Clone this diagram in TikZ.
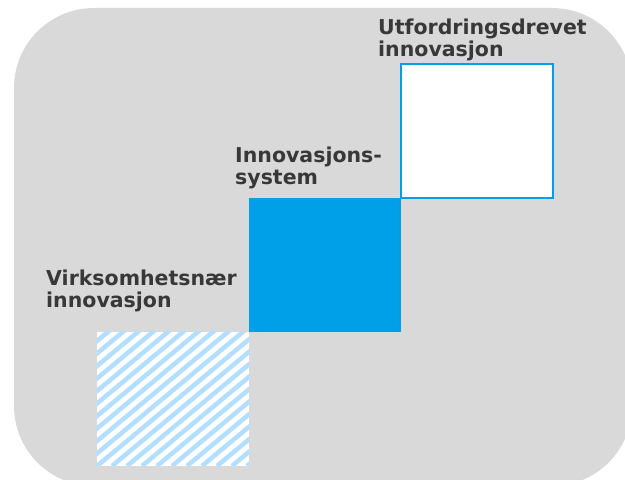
\documentclass[tikz,border=0pt]{standalone}
\usepackage{fontspec}
\setmainfont{DejaVu Sans}
\usetikzlibrary{positioning}

\definecolor{boxblue}{RGB}{0,160,233}
\definecolor{bggray}{RGB}{217,217,217}
\definecolor{stripeblue}{RGB}{178,223,255}
\definecolor{labelgray}{RGB}{56,56,56}

\begin{document}
\begin{tikzpicture}[x=1pt, y=1pt,
	square/.style={minimum width=152pt, minimum height=134pt, inner sep=0pt, outer sep=0pt},
	filled/.style={square, fill=boxblue},
	open/.style={square, fill=white, draw=boxblue, line width=2pt},
	striped/.style={square, fill=white, path picture={
		\foreach \s in {-210,-195,...,165}
			\draw [stripeblue, line width=4.5pt] ([xshift=\s pt]path picture bounding box.south west) -- ++(240,200);}},
	label/.style={anchor=base west, align=left, inner sep=0pt, text=labelgray,
		font=\bfseries\fontsize{20.5}{22}\selectfont}]

	\useasboundingbox (0,0) rectangle (625,480);

	% Background
	\fill [bggray, rounded corners=80pt] (14,-6) rectangle (632,472);

	% Squares {hatch, core, goal}
	\node [striped]		(hatch)		at (173,81)						{};
	\node [filled]		(core)		[above right=0pt and 0pt of hatch]	{};
	\node [open]		(goal)		[above right=0pt and 0pt of core]	{};

	% Labels (anchored at the baseline of their last line)
	\node [label]	(hatchlabel)	at (46,172)		{Virksomhetsnær\\innovasjon};
	\node [label]	(corelabel)		at (235,295)	{Innovasjons-\\system};
	\node [label]	(goallabel)		at (378,423)	{Utfordringsdrevet\\innovasjon};

\end{tikzpicture}
\end{document}
